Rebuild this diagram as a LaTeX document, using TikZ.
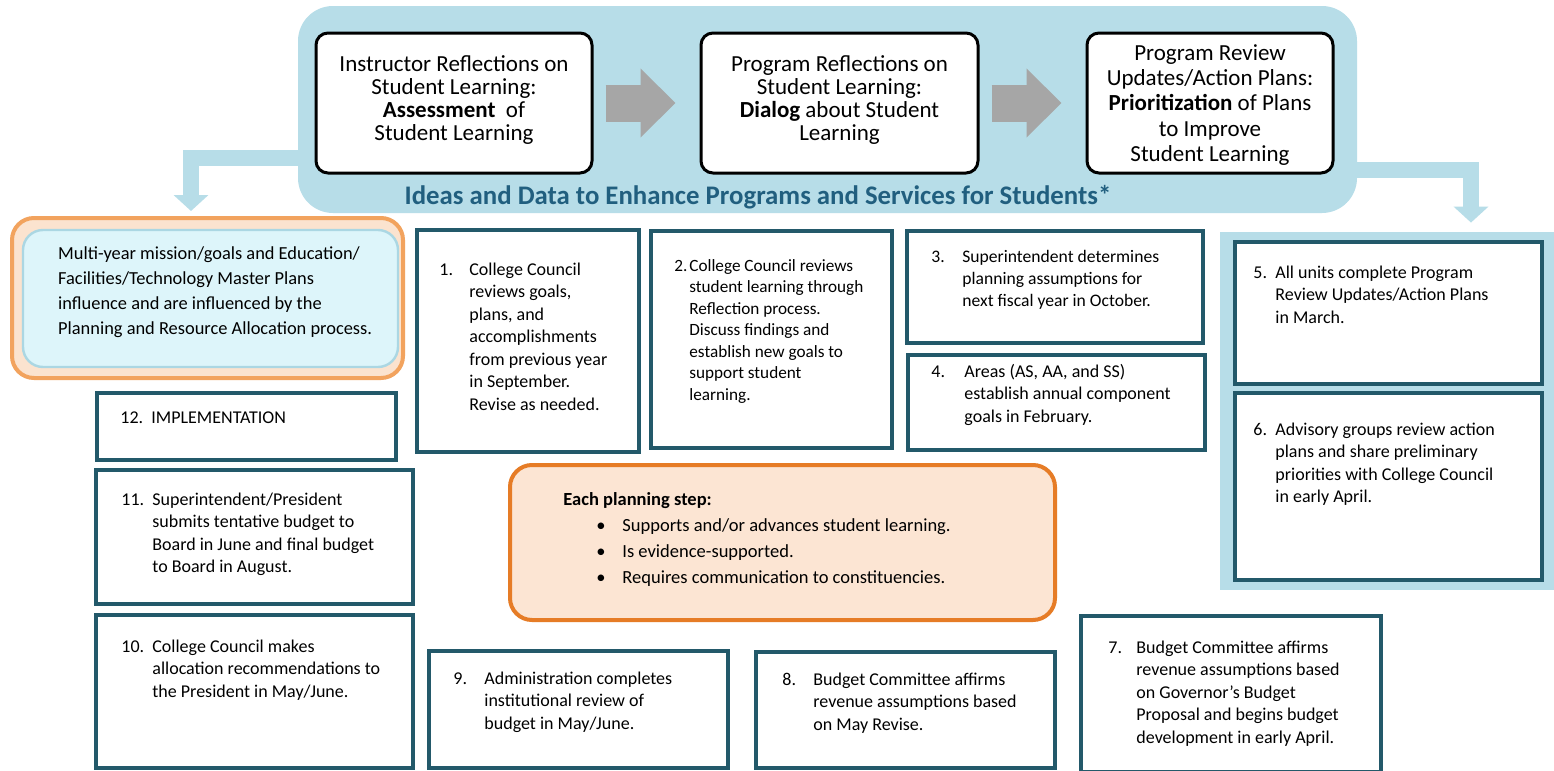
\documentclass[tikz,border=0pt]{standalone}
\usepackage{fontspec}
\setmainfont{Carlito}
\usepackage{xcolor}
\usetikzlibrary{arrows.meta,fit}
\definecolor{panelblue}{HTML}{B7DDE8}
\definecolor{boxteal}{HTML}{23596A}
\definecolor{arrowgrey}{HTML}{A6A6A6}
\definecolor{titleblue}{HTML}{215F7F}
\definecolor{orangeline}{HTML}{E67C26}
\definecolor{orangefill}{HTML}{FCE5D3}
\definecolor{peachline}{HTML}{F2A35E}
\definecolor{peachfill}{HTML}{FBE3CF}
\definecolor{cyanfill}{HTML}{DDF5FA}
\definecolor{cyanline}{HTML}{ABD7E3}

\begin{document}
\begin{tikzpicture}[x=0.5pt,y=-0.5pt,
 box/.style={draw=boxteal,line width=2pt,fill=white,inner sep=0},
 topbox/.style={draw=black,line width=1.5pt,rounded corners=6pt,fill=white,inner sep=0},
 toptxt/.style={align=center,inner sep=0,font=\fontsize{11.5}{12.6}\selectfont},
 txt/.style={anchor=north west,inner sep=0,font=\fontsize{9}{11.25}\selectfont},
 greyarrow/.style={draw=arrowgrey,line width=18.5pt,-{Triangle[width=33.5pt,length=17.5pt]},shorten <=6pt,shorten >=12pt},
 bluearrow/.style={draw=panelblue,line width=8pt,-{Triangle[width=17pt,length=8pt]}}]
\path[fill=white,use as bounding box] (0,0) rectangle (1554,771);

\node[fill=panelblue,rounded corners=17.5pt,inner sep=0,fit={(298,6) (1357,213)}] (panel) {};
\node[topbox,fit={(316,33) (592,173)}] (sA) {};
\node[topbox,fit={(701,33) (978,173)}] (sB) {};
\node[topbox,fit={(1087,33) (1333,173)}] (sC) {};
\node[toptxt,font=\fontsize{11.5}{11.6}\selectfont] (tA) at ([yshift=1.5pt]sA.center) {Instructor Reflections on\\Student Learning:\\\textbf{Assessment}~ of\\Student Learning};
\node[toptxt,font=\fontsize{11.5}{11.6}\selectfont] (tB) at ([yshift=1.5pt]sB.center) {Program Reflections on\\Student Learning:\\\textbf{Dialog} about Student\\Learning};
\node[toptxt] (tC) at ([yshift=-1pt]sC.center) {Program Review\\Updates/Action Plans:\\\textbf{Prioritization} of Plans\\to Improve\\Student Learning};
\draw[greyarrow] (sA.east) -- (sB.west);
\draw[greyarrow] (sB.east) -- (sC.west);
\node[font=\fontsize{13.4}{15}\selectfont\bfseries,text=titleblue] (idea) at (758,197) {Ideas and Data to Enhance Programs and Services for Students*};

\node[draw=peachline,line width=2pt,fill=peachfill,rounded corners=11pt,inner sep=0,fit={(12,218) (403,378)}] (mv) {};
\node[draw=cyanline,line width=1.2pt,fill=cyanfill,rounded corners=10pt,inner sep=0,fit={(23,230) (398,367)}] (mvi) {};
\node[anchor=west,align=left,inner sep=0,font=\fontsize{9.2}{12.5}\selectfont] (mvt) at ([xshift=18pt,yshift=3pt]mvi.west) {Multi-year mission/goals and Education/\\Facilities/Technology Master Plans\\influence and are influenced by the\\Planning and Resource Allocation process.};
\draw[bluearrow,shorten >=2.5pt] ([yshift=-24.25pt]panel.west) -| ([xshift=-8.25pt]mv.north);

\node[fill=panelblue,inner sep=0,fit={(1220,232) (1554,590)}] (rp) {};
\draw[bluearrow,shorten >=4.5pt] ([yshift=-30.25pt]panel.east) -| ([xshift=42pt]rp.north);

\node[box,fit={(417,230) (639,452)}] (s1) {};
\node[box,fit={(651,231) (892,448)}] (s2) {};
\node[box,fit={(907,231) (1203,343)}] (s3) {};
\node[box,fit={(908,355) (1205,450)}] (s4) {};
\node[box,fit={(1235,242) (1542,384)}] (s5) {};
\node[box,fit={(1235,393) (1542,580)}] (s6) {};
\node[box,fit={(1081,616) (1381,772)}] (s7) {};
\node[box,fit={(756,652) (1055,768)}] (s8) {};
\node[box,fit={(429,651) (728,768)}] (s9) {};
\node[box,fit={(96,615) (413,768)}] (s10) {};
\node[box,fit={(96,470) (413,604)}] (s11) {};
\node[box,fit={(97,393) (396,460)}] (s12) {};

\node[txt] (t1) at ([shift={(24,31)}]s1.north west) {\begin{tabular}{@{}p{15pt}@{}l@{}}1.&College Council\\&reviews goals,\\&plans, and\\&accomplishments\\&from previous year\\&in September.\\&Revise as needed.\end{tabular}};
\node[txt,font=\fontsize{8.6}{10.75}\selectfont] (t2) at ([shift={(25,27)}]s2.north west) {\begin{tabular}{@{}p{7.5pt}@{}l@{}}2.&College Council reviews\\&student learning through\\&Reflection process.\\&Discuss findings and\\&establish new goals to\\&support student\\&learning.\end{tabular}};
\node[txt,font=\fontsize{8.8}{11}\selectfont] (t3) at ([shift={(26,18)}]s3.north west) {\begin{tabular}{@{}p{15.5pt}@{}l@{}}3.&Superintendent determines\\&planning assumptions for\\&next fiscal year in October.\end{tabular}};
\node[txt] (t4) at ([shift={(25,8)}]s4.north west) {\begin{tabular}{@{}p{16.5pt}@{}l@{}}4.&Areas (AS, AA, and SS)\\&establish annual component\\&goals in February.\end{tabular}};
\node[txt] (t5) at ([shift={(20,22)}]s5.north west) {\begin{tabular}{@{}p{11pt}@{}l@{}}5.&All units complete Program\\&Review Updates/Action Plans\\&in March.\end{tabular}};
\node[txt] (t6) at ([shift={(20,28)}]s6.north west) {\begin{tabular}{@{}p{11pt}@{}l@{}}6.&Advisory groups review action\\&plans and share preliminary\\&priorities with College Council\\&in early April.\end{tabular}};
\node[txt] (t7) at ([shift={(29,23)}]s7.north west) {\begin{tabular}{@{}p{14pt}@{}l@{}}7.&Budget Committee affirms\\&revenue assumptions based\\&on Governor’s Budget\\&Proposal and begins budget\\&development in early April.\end{tabular}};
\node[txt] (t8) at ([shift={(28,19)}]s8.north west) {\begin{tabular}{@{}p{15.5pt}@{}l@{}}8.&Budget Committee affirms\\&revenue assumptions based\\&on May Revise.\end{tabular}};
\node[txt] (t9) at ([shift={(26,19)}]s9.north west) {\begin{tabular}{@{}p{15.5pt}@{}l@{}}9.&Administration completes\\&institutional review of\\&budget in May/June.\end{tabular}};
\node[txt] (t10) at ([shift={(27,23)}]s10.north west) {\begin{tabular}{@{}p{15.5pt}@{}l@{}}10.&College Council makes\\&allocation recommendations to\\&the President in May/June.\end{tabular}};
\node[txt] (t11) at ([shift={(27,21)}]s11.north west) {\begin{tabular}{@{}p{15.5pt}@{}l@{}}11.&Superintendent/President\\&submits tentative budget to\\&Board in June and final budget\\&to Board in August.\end{tabular}};
\node[txt] (t12) at ([shift={(25,16)}]s12.north west) {\begin{tabular}{@{}p{15.5pt}@{}l@{}}12.&IMPLEMENTATION\end{tabular}};

\node[draw=orangeline,line width=2pt,fill=orangefill,rounded corners=11pt,inner sep=0,fit={(510,465) (1055,620)}] (eps) {};
\node[txt,font=\fontsize{9.25}{13}\selectfont] (epst) at ([shift={(55,24)}]eps.north west) {\begin{tabular}{@{}p{16.5pt}@{}p{13pt}@{}l@{}}\multicolumn{3}{@{}l@{}}{\textbf{Each planning step:}}\\&\textbullet&Supports and/or advances student learning.\\&\textbullet&Is evidence-supported.\\&\textbullet&Requires communication to constituencies.\end{tabular}};
\end{tikzpicture}
\end{document}
